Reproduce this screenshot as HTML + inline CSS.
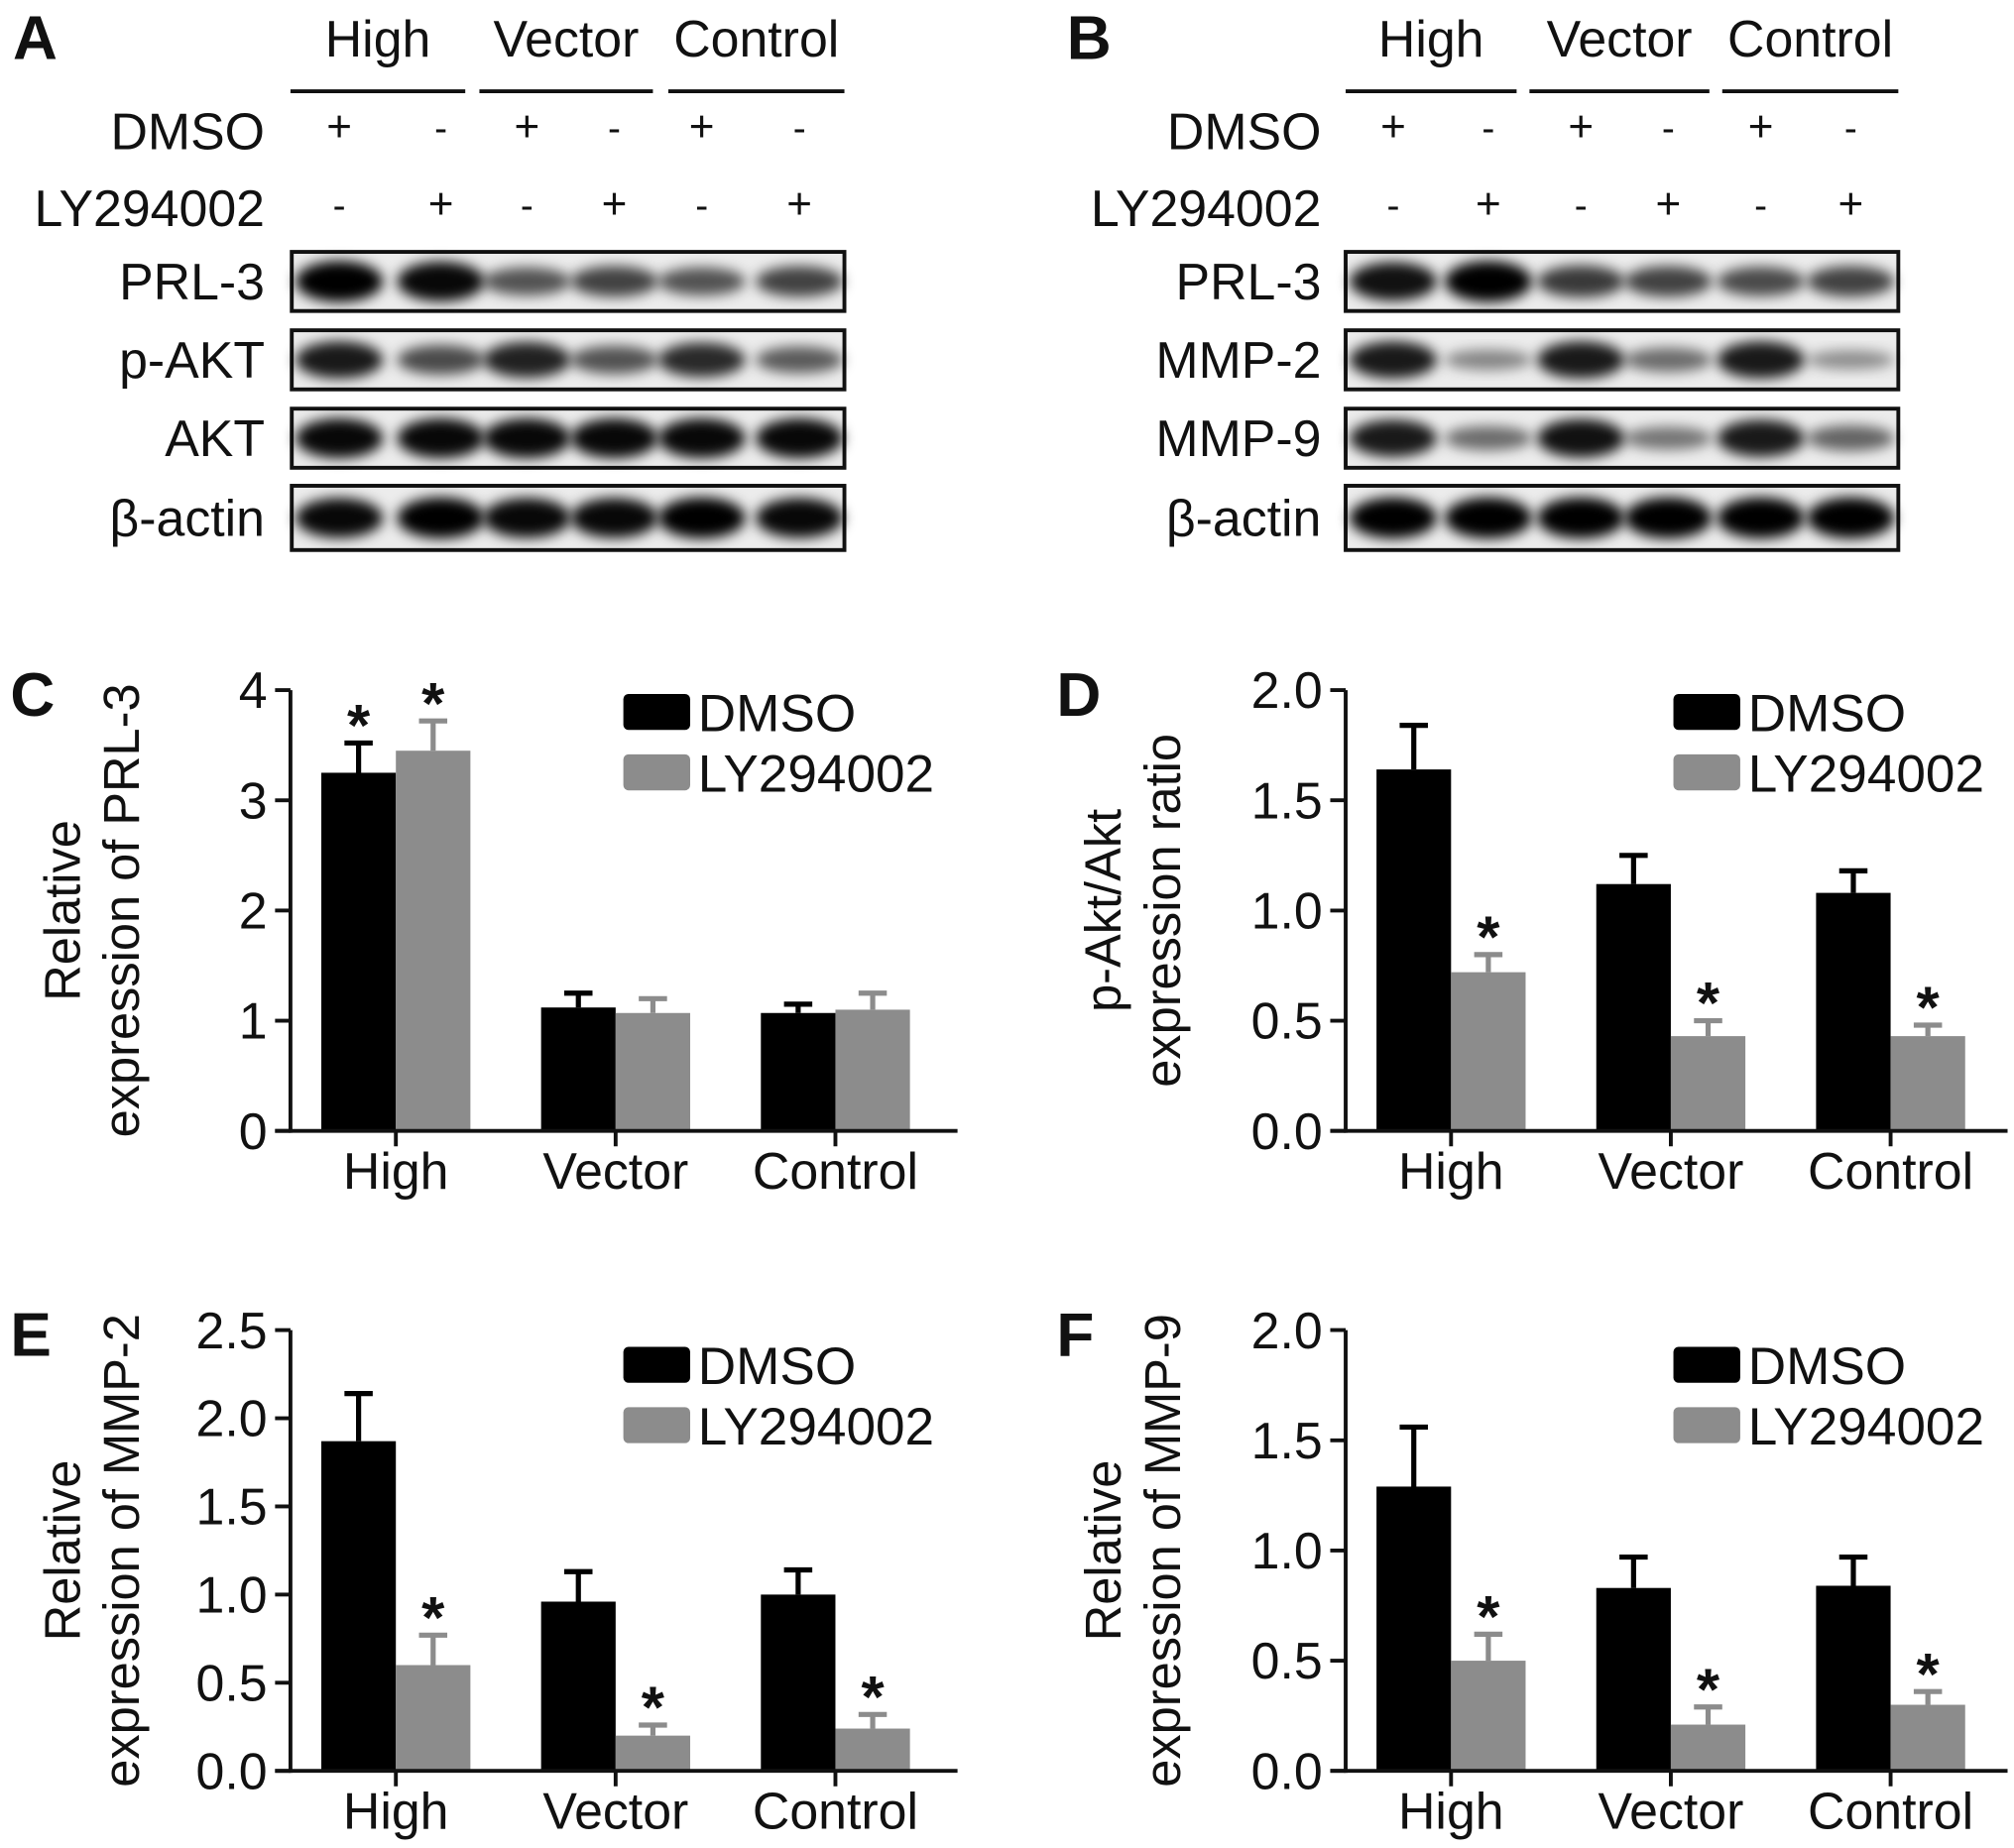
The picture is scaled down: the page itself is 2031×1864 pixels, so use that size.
<!DOCTYPE html>
<html><head><meta charset="utf-8"><style>
html,body{margin:0;padding:0;background:#fff}
svg{display:block}
text{font-family:"Liberation Sans",Arial,sans-serif;fill:#111}
</style></head><body>
<svg id="fig" width="2031" height="1864" viewBox="0 0 1567 1438" preserveAspectRatio="none" xmlns="http://www.w3.org/2000/svg">
<defs>
<filter id="blur" x="-20%" y="-50%" width="140%" height="200%"><feGaussianBlur stdDeviation="5"/></filter>
</defs>
<g id="blots"></g>
<g id="charts"></g>
</svg>
<script>
const NS="http://www.w3.org/2000/svg";
const fig=document.getElementById('fig');
function mk(tag,attrs,parent,txt){const e=document.createElementNS(NS,tag);for(const k in attrs)e.setAttribute(k,attrs[k]);if(txt!==undefined)e.textContent=txt;(parent||fig).appendChild(e);return e;}

/* ---------- chart data ---------- */
const categories=["High","Vector","Control"];
const seriesNames=["DMSO","LY294002"];
const cDmso=[3.25,1.12,1.07], cDmsoErr=[0.27,0.13,0.08];
const cLy=[3.45,1.07,1.10], cLyErr=[0.27,0.13,0.15];
const cTicks=["0","1","2","3","4"];
const dDmso=[1.64,1.12,1.08], dDmsoErr=[0.20,0.13,0.10];
const dLy=[0.72,0.43,0.43], dLyErr=[0.08,0.07,0.05];
const dTicks=["0.0","0.5","1.0","1.5","2.0"];
const eDmso=[1.87,0.96,1.00], eDmsoErr=[0.27,0.17,0.14];
const eLy=[0.60,0.20,0.24], eLyErr=[0.17,0.06,0.08];
const eTicks=["0.0","0.5","1.0","1.5","2.0","2.5"];
const fDmso=[1.29,0.83,0.84], fDmsoErr=[0.27,0.14,0.13];
const fLy=[0.50,0.21,0.30], fLyErr=[0.12,0.08,0.06];
const fTicks=["0.0","0.5","1.0","1.5","2.0"];
const cStars=[[true,true],[false,false],[false,false]];
const dStars=[[false,true],[false,true],[false,true]];
const eStars=[[false,true],[false,true],[false,true]];
const fStars=[[false,true],[false,true],[false,true]];

function drawChart(o){
  const g=mk('g',{},document.getElementById('charts'));
  
  
  const tickVals=o.ticks.map(Number);
  const ymax=tickVals[tickVals.length-1];
  const y=v=>o.y0-(v/ymax)*(o.y0-o.yTop);
  const bw=58;
  const xc=i=>o.x0+82+171*i;
  const L=mk('text',{x:o.letterX,y:o.yTop+20,'font-size':48,'font-weight':'bold'},g,o.letter);
  
  
  const t1=mk('text',{transform:`translate(${o.titleX},${(o.y0+o.yTop)/2}) rotate(-90)`,'text-anchor':'middle','font-size':39},g,o.title1);
  
  
  const t2=mk('text',{transform:`translate(${o.titleX+46},${(o.y0+o.yTop)/2}) rotate(-90)`,'text-anchor':'middle','font-size':39},g,o.title2);
  
  
  const sets=[[o.dmso,o.dmsoErr,'#000'],[o.ly,o.lyErr,'#8c8c8c']];
  categories.forEach((c,i)=>{
    sets.forEach((s,k)=>{
      const bx=xc(i)-bw+k*bw;
      const top=y(s[0][i]);
      const r=mk('rect',{x:bx,y:top,width:bw,height:o.y0-top,fill:s[2]},g);
      
      
      const ex=bx+bw/2, et=y(s[0][i]+s[1][i]);
      const eb=mk('path',{d:`M${ex} ${top} V${et} M${ex-11} ${et} H${ex+11}`,stroke:s[2],'stroke-width':4,fill:'none'},g);
      
      
      if(o.stars[i][k]){
        const st=mk('text',{x:ex,y:et+2,'text-anchor':'middle','font-size':46,'font-weight':'bold'},g,'*');
        
        
      }
    });
    const tk=mk('line',{x1:xc(i),x2:xc(i),y1:o.y0,y2:o.y0+12,stroke:'#111','stroke-width':3},g);
    
    
    const lb=mk('text',{x:xc(i),y:o.y0+45,'text-anchor':'middle','font-size':40},g,c);
    
    
  });
  const ya=mk('line',{x1:o.x0,x2:o.x0,y1:o.yTop,y2:o.y0+1.5,stroke:'#111','stroke-width':3},g);
  
  
  const xa=mk('line',{x1:o.x0-12,x2:o.xEnd,y1:o.y0,y2:o.y0,stroke:'#111','stroke-width':3},g);
  
  
  o.ticks.forEach(t=>{
    const yy=y(Number(t));
    const tl=mk('line',{x1:o.x0-12,x2:o.x0,y1:yy,y2:yy,stroke:'#111','stroke-width':3},g);
    
    
    const tt=mk('text',{x:o.x0-18,y:yy+14,'text-anchor':'end','font-size':40},g,t);
    
    
  });
  const lx=o.legX, ly=o.legY;
  [['#000',seriesNames[0]],['#8c8c8c',seriesNames[1]]].forEach((s,k)=>{
    const lr=mk('rect',{x:lx,y:ly+k*47,width:52,height:28,rx:4,fill:s[0]},g);
    
    
    const lt=mk('text',{x:lx+58,y:ly+k*47+29,'font-size':41},g,s[1]);
    
    
  });
}
drawChart({name:'chart-c',letter:'C',letterX:8,x0:226,xEnd:745,y0:880,yTop:537,ticks:cTicks,dmso:cDmso,dmsoErr:cDmsoErr,ly:cLy,lyErr:cLyErr,stars:cStars,titleX:62,title1:'Relative',title2:'expression of PRL-3',legX:485,legY:540});
drawChart({name:'chart-d',letter:'D',letterX:822,x0:1047,xEnd:1562,y0:880,yTop:537,ticks:dTicks,dmso:dDmso,dmsoErr:dDmsoErr,ly:dLy,lyErr:dLyErr,stars:dStars,titleX:872,title1:'p-Akt/Akt',title2:'expression ratio',legX:1302,legY:540});
drawChart({name:'chart-e',letter:'E',letterX:8,x0:226,xEnd:745,y0:1378,yTop:1035,ticks:eTicks,dmso:eDmso,dmsoErr:eDmsoErr,ly:eLy,lyErr:eLyErr,stars:eStars,titleX:62,title1:'Relative',title2:'expression of MMP-2',legX:485,legY:1048});
drawChart({name:'chart-f',letter:'F',letterX:822,x0:1047,xEnd:1562,y0:1378,yTop:1035,ticks:fTicks,dmso:fDmso,dmsoErr:fDmsoErr,ly:fLy,lyErr:fLyErr,stars:fStars,titleX:872,title1:'Relative',title2:'expression of MMP-9',legX:1302,legY:1048});

/* ---------- western blots ---------- */
const dmsoSigns=["+","-","+","-","+","-"];
const lySigns=["-","+","-","+","-","+"];
const blotA=[["PRL-3",[1,0.95,0.5,0.6,0.5,0.6]],["p-AKT",[0.85,0.55,0.8,0.5,0.75,0.45]],["AKT",[0.95,0.95,0.95,0.95,0.95,0.95]],["β-actin",[0.95,1,0.95,0.95,1,0.95]]];
const blotB=[["PRL-3",[0.9,1,0.65,0.6,0.55,0.6]],["MMP-2",[0.85,0.2,0.85,0.35,0.85,0.15]],["MMP-9",[0.85,0.35,0.9,0.3,0.85,0.4]],["β-actin",[1,1,1,1,1,1]]];
function drawBlot(o){
  const g=mk('g',{},document.getElementById('blots'));
  
  
  const L=mk('text',{x:o.letterX,y:46,'font-size':48,'font-weight':'bold'},g,o.letter);
  
  
  o.groups.forEach((gr,i)=>{
    const t=mk('text',{x:(gr[0]+gr[1])/2,y:44,'text-anchor':'middle','font-size':40},g,categories[i]);
    
    
    const ln=mk('line',{x1:gr[0],x2:gr[1],y1:71,y2:71,stroke:'#111','stroke-width':3},g);
    
    
  });
  [["DMSO",dmsoSigns,116],["LY294002",lySigns,176]].forEach(r=>{
    const t=mk('text',{x:o.labelX,y:r[2],'text-anchor':'end','font-size':40},g,r[0]);
    
    
    r[1].forEach((s,i)=>{
      const st=mk('text',{x:o.cols[i],y:r[2]-6,'text-anchor':'middle','font-size':s=='+'?34:30},g,s);
      
      
    });
  });
  const rowsY=[196,257,318,378];
  o.rows.forEach((row,r)=>{
    const y0=rowsY[r], h=r==3?50:46;
    const bx=mk('rect',{x:o.bx0,y:y0,width:o.bx1-o.bx0,height:h,fill:'#ececec',stroke:'#111','stroke-width':3},g);
    
    
    row[1].forEach((v,i)=>{
      const e=mk('ellipse',{cx:o.cols[i],cy:y0+h/2,rx:34,ry:6+v*10,fill:`rgba(0,0,0,${0.3+v*0.7})`,filter:'url(#blur)'},g);
      
      
    });
    const t=mk('text',{x:o.labelX,y:y0+h/2+14,'text-anchor':'end','font-size':40},g,row[0]);
    
    
  });
}
drawBlot({name:'blot-panel-a',letter:'A',letterX:10,labelX:206,groups:[[226,362],[373,508],[520,657]],cols:[264,343,410,478,546,622],bx0:227,bx1:657,rows:blotA});
drawBlot({name:'blot-panel-b',letter:'B',letterX:830,labelX:1028,groups:[[1047,1180],[1190,1330],[1340,1477]],cols:[1084,1158,1230,1298,1370,1440],bx0:1047,bx1:1477,rows:blotB});
</script>
</body></html>
